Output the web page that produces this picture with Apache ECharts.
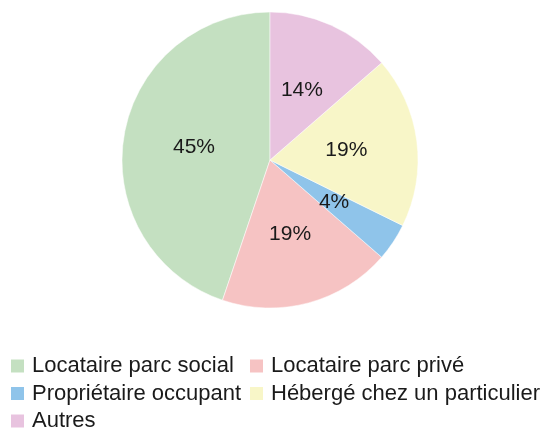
<!DOCTYPE html>
<html>
<head>
<meta charset="utf-8">
<script src="https://cdn.jsdelivr.net/npm/echarts@6/dist/echarts.min.js"></script>
<style>
  html, body { margin: 0; padding: 0; background: #fff; }
  #chart { width: 540px; height: 428px; }
</style>
</head>
<body>
<div id="chart"></div>
<script>
// catégories dans l'ordre de la légende
var categories = [
  "Locataire parc social",
  "Locataire parc privé",
  "Propriétaire occupant",
  "Hébergé chez un particulier",
  "Autres"
];
var shares = [44.8, 18.8, 4.1, 18.7, 13.6];
var colors = ["#c4e0c1", "#f6c3c3", "#8fc4ea", "#f8f6c8", "#e8c3df"];

var chart = echarts.init(document.getElementById("chart"));

var pieData = categories.map(function (name, i) {
  return { name: name, value: shares[i], itemStyle: { color: colors[i] } };
});

var legendText = {
  fontFamily: "Liberation Sans, Arial, sans-serif",
  fontSize: 22,
  color: "#1a1a1a",
  lineHeight: 22,
  padding: [0, 0, 0, 2]
};

var option = {
  animation: false,
  legend: [
    {
      orient: "vertical",
      left: 9,
      top: 355,
      height: 100,
      padding: 0,
      itemWidth: 15,
      itemHeight: 15,
      itemGap: 5.5,
      icon: "rect",
      textStyle: legendText,
      data: [categories[0], categories[2], categories[4]]
    },
    {
      orient: "vertical",
      left: 248,
      top: 355,
      height: 100,
      padding: 0,
      itemWidth: 15,
      itemHeight: 15,
      itemGap: 5.5,
      icon: "rect",
      textStyle: legendText,
      data: [categories[1], categories[3]]
    }
  ],
  series: [
    {
      type: "pie",
      center: [270, 160],
      radius: [0, 148],
      startAngle: 90,
      clockwise: false,
      label: {
        position: "inside",
        fontFamily: "Liberation Sans, Arial, sans-serif",
        fontSize: 21,
        color: "#1a1a1a",
        formatter: function (p) {
          return Math.round(p.value) + "%";
        }
      },
      labelLine: { show: false },
      itemStyle: { borderColor: "#ffffff", borderWidth: 0.5 },
      emphasis: { disabled: true },
      data: pieData
    }
  ]
};

chart.setOption(option);
</script>
</body>
</html>
